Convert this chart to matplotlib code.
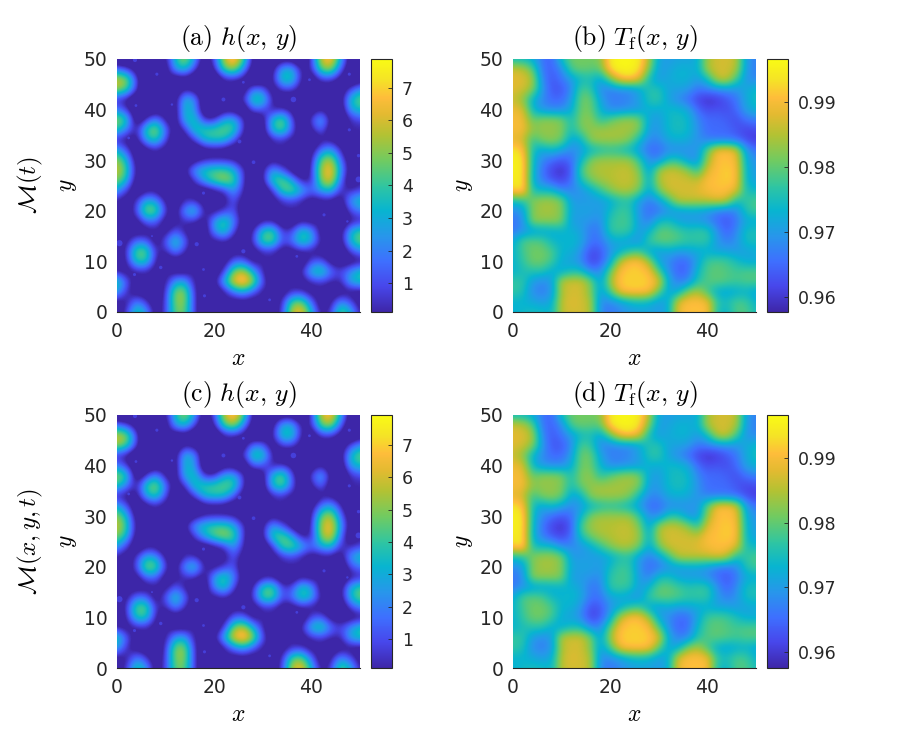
import numpy as np
import matplotlib
matplotlib.use('Agg')
import matplotlib.pyplot as plt
from matplotlib.colors import LinearSegmentedColormap

plt.rcParams['mathtext.fontset'] = 'cm'

# grid, x = 0,2,...,50 and y = 50,48,...,0
# film height in tenths. cells below zero are only there to put the droplet
# rims in the right place once the grid is interpolated, they show as the floor colour
h_rows = [
    [-25,-25,-15,-5,-5,-10,30,50,20,-18,3,52,70,40,-10,-25,-20,-15,-15,-25,0,55,66,25,-15,-25],
    [12,2,-15,-20,-5,-18,22,30,2,-20,-6,38,50,18,-15,-20,-10,24,26,-8,-4,42,50,8,-18,-25],
    [55,48,3,-25,-5,-5,-20,-15,-22,-25,-25,-8,-3,-10,-25,-20,-6,34,34,-6,-20,0,1,-12,-25,-15],
    [50,38,0,-25,-5,-5,-20,-6,-12,-20,-5,-5,-15,-18,14,10,-18,2,2,-15,-5,-15,-15,-18,3,18],
    [-3,-10,-25,-5,-5,-5,-14,30,18,-22,-5,-5,-5,-2,38,36,-4,-20,-20,-5,-15,-15,-5,-15,28,44],
    [14,0,-22,-20,-18,-15,-14,30,20,-22,-25,-15,-15,-25,8,5,-8,0,-10,-25,-15,-6,-18,-20,22,30],
    [50,34,-20,-2,20,-8,-16,28,32,-2,-2,24,28,0,-25,-14,30,45,6,-20,3,27,-8,-25,-3,3],
    [33,14,-8,36,50,13,-15,-2,34,36,38,42,38,-1,-25,-14,28,42,8,-20,-8,12,-18,-5,-5,-5],
    [-6,-12,-12,22,36,3,-20,-16,0,28,32,30,8,-18,-5,-20,-6,-2,-12,-5,-20,-10,-8,-18,-5,-5],
    [26,5,-20,-14,-6,-14,-5,-5,-22,-15,-14,-15,-20,-5,-5,-5,-5,-5,-5,-5,-15,14,24,-3,-22,-5],
    [48,28,-16,-5,-5,-5,-5,-22,-12,-3,-2,-2,-4,-18,-5,-18,-10,-15,-5,-25,-6,42,54,12,-16,-5],
    [55,36,-12,-5,-5,-5,-22,-6,22,32,38,38,28,0,-20,-8,24,6,-14,-22,-2,50,64,22,-15,-5],
    [45,28,-16,-5,-5,-5,-5,-20,0,24,40,50,40,0,-22,-8,36,44,24,-6,-6,46,60,12,-20,-5],
    [22,0,-20,-10,-10,-20,-5,-5,-15,-18,-12,-2,22,-4,-22,-20,-3,38,44,26,10,22,30,-3,-3,2],
    [-6,-14,-2,26,20,-8,-18,-4,-2,-15,-5,-14,8,-14,-5,-5,-14,-3,3,-6,-15,-10,-10,-15,20,34],
    [-5,-15,4,48,44,0,-14,22,33,-6,-12,0,8,-20,-5,-5,-5,-5,-5,-5,-5,-5,-5,-22,4,14],
    [-5,-5,-14,12,10,-14,-10,-2,0,-14,22,38,16,-12,-20,-10,-10,-20,-18,-10,-15,-5,-5,-22,-10,-6],
    [-5,-10,-14,-14,-5,-14,8,-8,-18,-18,18,36,5,-20,-4,34,40,0,2,34,22,-15,-5,-14,25,38],
    [-8,-10,12,10,-16,8,35,10,-15,-5,-12,-3,-14,-16,0,40,42,4,12,38,26,-8,-5,-14,28,44],
    [-18,0,42,42,-2,-6,18,-3,-18,-5,-5,-15,-10,-12,-14,-3,-3,-14,-14,-5,-10,-12,-15,-20,1,16],
    [-20,-4,34,34,-6,-18,-15,-18,-5,-5,-5,-15,8,10,-12,-5,-5,-5,-5,-20,4,8,-12,-15,-14,-12],
    [-3,-14,-5,-5,-14,-5,-12,-12,-5,-5,-18,-2,45,55,26,-4,-20,-5,-15,-3,30,40,12,2,18,34],
    [36,8,-14,-5,-5,-10,22,24,-10,-5,-10,26,60,72,50,5,-16,-5,-5,-15,-2,0,-4,-6,26,32],
    [25,-2,-14,-15,-20,-1,46,46,-2,-20,-18,-10,14,24,8,-10,-5,-15,-3,-1,-15,-5,-18,-12,-12,-12],
    [-10,-8,16,0,-16,1,46,46,-1,-20,-5,-5,-15,-12,-15,-5,-15,-3,40,44,10,-16,-8,18,5,-14],
    [-14,0,38,22,-16,2,42,42,-1,-20,-5,-5,-5,-5,-5,-5,-14,0,54,62,28,-10,0,44,28,-6],
]

# temperature in thousandths
T_rows = [
    [974,974,972,966,964,975,981,981,981,982,995,996,996,995,985,971,970,971,971,972,984,987,987,986,970,967],
    [987,986,980,966,964,968,979,981,980,980,994,996,996,994,982,970,971,973,973,972,985,987,987,985,970,967],
    [988,988,985,968,963,966,970,974,975,971,980,990,992,988,974,970,972,973,973,970,974,986,987,978,969,968],
    [988,987,983,970,963,963,968,979,977,968,967,968,968,971,976,976,971,971,970,966,967,968,969,969,972,974],
    [986,983,973,968,965,965,970,981,981,971,967,967,968,971,976,977,971,968,965,961,959,960,963,966,972,975],
    [989,988,974,969,968,968,972,981,981,973,968,968,969,970,973,972,974,974,972,965,962,963,962,965,971,973],
    [990,990,980,983,983,982,975,982,983,976,980,983,984,982,971,970,974,975,974,968,965,965,964,962,966,967],
    [990,990,983,983,983,982,975,981,983,984,984,984,984,982,970,970,974,975,974,969,965,965,965,963,961,962],
    [988,987,977,982,983,981,971,973,983,984,984,984,982,974,968,968,972,973,972,969,967,966,966,965,962,960],
    [994,992,975,971,974,971,968,970,973,975,976,975,973,970,965,965,968,968,969,969,980,990,991,988,970,966],
    [995,995,974,968,965,963,965,973,982,984,984,984,984,977,969,968,976,976,970,969,983,991,991,990,972,969],
    [995,995,974,966,961,959,963,979,984,985,985,986,986,982,970,984,987,986,983,976,988,991,992,991,973,970],
    [994,995,973,967,963,961,965,975,981,984,985,986,986,984,972,985,987,987,987,986,991,991,992,991,973,971],
    [992,995,975,974,974,968,968,969,972,977,982,985,985,981,971,981,987,987,987,988,990,991,991,988,975,974],
    [975,976,982,984,984,982,970,970,970,970,972,975,976,970,967,970,977,986,986,986,986,988,986,975,977,979],
    [968,970,982,984,984,982,971,971,971,970,974,978,977,969,965,966,969,970,971,971,970,967,966,968,976,978],
    [966,968,983,983,983,982,970,970,969,968,977,978,978,970,967,974,975,971,970,970,968,965,963,966,972,972],
    [966,969,970,971,972,973,973,971,966,967,977,978,977,970,973,980,980,978,976,977,977,969,964,968,975,975],
    [972,979,980,979,974,973,974,972,966,966,971,972,970,969,978,980,980,979,977,977,977,970,967,969,975,975],
    [973,978,981,981,979,973,973,969,962,963,969,972,976,978,971,970,972,970,971,972,972,971,971,970,971,972],
    [973,977,981,981,978,972,971,968,961,963,971,985,991,991,984,971,968,965,965,971,978,979,978,975,972,972],
    [973,975,976,976,972,972,975,975,968,968,980,991,992,992,991,979,969,964,965,974,979,980,979,978,979,979],
    [977,977,970,968,970,986,987,987,982,970,984,992,992,992,992,989,972,967,968,976,979,980,979,978,979,979],
    [977,976,968,967,969,985,987,987,982,970,978,990,992,992,991,980,971,972,982,985,978,972,971,972,973,971],
    [973,973,972,970,972,986,988,987,985,968,968,970,973,974,973,970,972,988,991,991,990,977,975,979,978,973],
    [973,974,975,975,973,986,987,987,985,968,966,968,970,971,971,970,972,989,991,991,991,975,973,979,979,975],
]

# tiny droplets on the film
drop_x = [3.7,8.2,26,39.6,47.8,36.3,21.9,11.3,3.9,47.8,2.4,25.2,28.1,49.7,49.7,17.8,42.6,47.4,0.5,16.4,26,37,9,3.6,17.8,18,31.4,7.2]
drop_y = [49.8,47,45.4,45.9,47,42,42,41,40.8,36,34.4,33.7,29.6,30.9,26.2,23.5,19.2,17.9,13.6,13.4,12,11,8.8,7.4,8.4,3.2,2.4,15]
drop_s = [9,5,4,4,5,16,8,3,4,5,4,8,7,6,18,5,5,3,20,9,9,4,6,5,4,5,4,2]

titles = [r'$\mathrm{(a)}\ h(x,\,y)$', r'$\mathrm{(b)}\ T_{\mathrm{f}}(x,\,y)$',
          r'$\mathrm{(c)}\ h(x,\,y)$', r'$\mathrm{(d)}\ T_{\mathrm{f}}(x,\,y)$']
row_labels = [r'$\mathcal{M}(t)$', r'$\mathcal{M}(x,y,t)$']
h_limits = [(0.11, 7.89), (0.1, 7.93)]
T_limits = [(0.9577, 0.9966), (0.9575, 0.9967)]
h_ticks = [1, 2, 3, 4, 5, 6, 7]
T_ticks = [0.96, 0.97, 0.98, 0.99]

parula = LinearSegmentedColormap.from_list('parula', [
    (0.00, (0.2422, 0.1504, 0.6603)),
    (0.10, (0.2803, 0.2782, 0.9221)),
    (0.20, (0.2440, 0.4358, 0.9988)),
    (0.30, (0.1540, 0.5902, 0.9218)),
    (0.40, (0.0297, 0.7082, 0.8163)),
    (0.50, (0.1938, 0.7758, 0.6251)),
    (0.60, (0.4420, 0.7950, 0.3800)),
    (0.70, (0.7000, 0.7600, 0.2000)),
    (0.78, (0.8900, 0.7300, 0.1900)),
    (0.85, (0.9950, 0.7400, 0.2300)),
    (0.92, (0.9600, 0.8900, 0.1500)),
    (1.00, (0.9769, 0.9839, 0.0805)),
], N=256)

# the rims stand about 0.5 above the floor, the rows above leave that out
h_field = np.array(h_rows) / 10 + 0.55
T_field = np.array(T_rows) / 1000

W, H = 900, 750
dark = '#262626'


def px_axes(fig, left, top, right, bottom):
    return fig.add_axes([left / W, 1 - bottom / H, (right - left) / W, (bottom - top) / H])


fig = plt.figure(figsize=(9, 7.5), dpi=100)
lefts = [117, 513]
tops = [59, 415]
for r in range(2):
    for c in range(2):
        top = tops[r]
        ax = px_axes(fig, lefts[c], top, lefts[c] + 243, top + 253)
        cax = px_axes(fig, lefts[c] + 254, top, lefts[c] + 275, top + 253)
        if c == 0:
            lo, hi = h_limits[r]
            field, ticks = h_field, h_ticks
        else:
            lo, hi = T_limits[r]
            field, ticks = T_field, T_ticks
        im = ax.imshow(field, extent=(-1, 51, -1, 51), cmap=parula, vmin=lo, vmax=hi,
                       interpolation='bicubic', aspect='auto')
        if c == 0:
            ax.scatter(drop_x, drop_y, s=drop_s, c=[0.7] * len(drop_x), cmap=parula,
                       vmin=lo, vmax=hi, linewidths=0)
        ax.set_xlim(0, 50)
        ax.set_ylim(0, 50)
        ax.set_xticks([0, 20, 40])
        ax.set_yticks([0, 10, 20, 30, 40, 50])
        ax.tick_params(length=0, labelsize=13.5, labelcolor=dark, pad=7)
        for name in ['top', 'right', 'left']:
            ax.spines[name].set_visible(False)
        ax.spines['bottom'].set_linewidth(0.8)
        ax.spines['bottom'].set_color(dark)
        ax.set_title(titles[2 * r + c], fontsize=18.5, pad=10)
        ax.set_xlabel(r'$x$', fontsize=17, labelpad=4)
        ax.set_ylabel(r'$y$', fontsize=17, labelpad=3)

        cb = fig.colorbar(im, cax=cax)
        cb.set_ticks(ticks)
        cb.ax.tick_params(direction='in', length=3, width=0.6, color=dark,
                          labelsize=12.5, labelcolor=dark, pad=7)
        cb.outline.set_edgecolor(dark)
        cb.outline.set_linewidth(0.8)

    fig.text(30 / W, 1 - (tops[r] + 126) / H, row_labels[r], rotation=90, fontsize=18,
             ha='center', va='center')

fig.savefig('out.png', dpi=100)
